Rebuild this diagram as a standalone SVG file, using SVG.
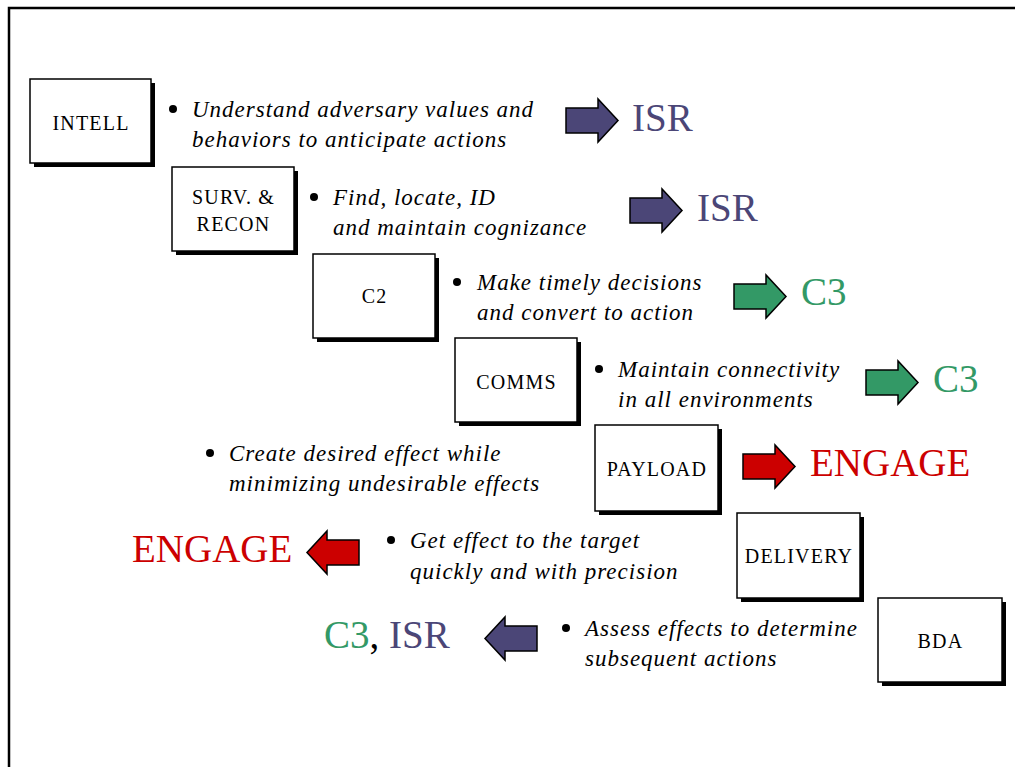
<svg xmlns="http://www.w3.org/2000/svg" width="1015" height="767" viewBox="0 0 1015 767">
<style>
.box{fill:#fff;stroke:#000;stroke-width:1.5}
.shd{fill:#000}
.lbl{font-family:"Liberation Serif",serif;font-size:20px;letter-spacing:1.2px;fill:#000;text-anchor:middle}
.txt{font-family:"Liberation Serif",serif;font-style:italic;font-size:23px;letter-spacing:1px;fill:#000}
.dot{fill:#000}
.big{font-family:"Liberation Serif",serif;font-size:39px}
.isr{fill:#4b4677}
.c3{fill:#339966}
.eng{fill:#cc0000}
.arr{stroke:#000;stroke-width:1.5;stroke-linejoin:miter}
</style>
<defs>
<path id="arrow" d="M0,9 H32 V0 L52,21.5 L32,43 V34 H0 Z"/>
</defs>
<rect x="0" y="0" width="1015" height="767" fill="#fff"/>
<path d="M9,767 V8 H1015" fill="none" stroke="#000" stroke-width="2.5"/>

<g id="intell">
<rect class="shd" x="34" y="83" width="121" height="84"/>
<rect class="box" x="30" y="79" width="121" height="84"/>
<text class="lbl" x="91" y="130">INTELL</text>
</g>
<g id="surv">
<rect class="shd" x="176" y="171" width="122" height="84"/>
<rect class="box" x="172" y="167" width="122" height="84"/>
<text class="lbl" x="233.5" y="204">SURV. &amp;</text>
<text class="lbl" x="233.5" y="231">RECON</text>
</g>
<g id="c2">
<rect class="shd" x="317" y="258" width="122" height="84"/>
<rect class="box" x="313" y="254" width="122" height="84"/>
<text class="lbl" x="374.5" y="303">C2</text>
</g>
<g id="comms">
<rect class="shd" x="459" y="342" width="122" height="84"/>
<rect class="box" x="455" y="338" width="122" height="84"/>
<text class="lbl" x="516.5" y="389">COMMS</text>
</g>
<g id="payload">
<rect class="shd" x="599" y="429" width="123" height="86"/>
<rect class="box" x="595" y="425" width="123" height="86"/>
<text class="lbl" x="657" y="476">PAYLOAD</text>
</g>
<g id="delivery">
<rect class="shd" x="741" y="517" width="123" height="85"/>
<rect class="box" x="737" y="513" width="123" height="85"/>
<text class="lbl" x="799" y="563">DELIVERY</text>
</g>
<g id="bda">
<rect class="shd" x="882" y="602" width="124" height="84"/>
<rect class="box" x="878" y="598" width="124" height="84"/>
<text class="lbl" x="940.5" y="648">BDA</text>
</g>

<g id="bullets">
<circle class="dot" cx="173" cy="109" r="4"/>
<text class="txt" x="192" y="117">Understand adversary values and</text>
<text class="txt" x="192" y="147">behaviors to anticipate actions</text>

<circle class="dot" cx="314" cy="197" r="4"/>
<text class="txt" x="333" y="205">Find, locate, ID</text>
<text class="txt" x="333" y="235">and maintain cognizance</text>

<circle class="dot" cx="457" cy="282" r="4"/>
<text class="txt" x="477" y="290">Make timely decisions</text>
<text class="txt" x="477" y="320">and convert to action</text>

<circle class="dot" cx="599" cy="369" r="4"/>
<text class="txt" x="618" y="377">Maintain connectivity</text>
<text class="txt" x="618" y="407">in all environments</text>

<circle class="dot" cx="210" cy="453" r="4"/>
<text class="txt" x="229" y="461">Create desired effect while</text>
<text class="txt" x="229" y="491">minimizing undesirable effects</text>

<circle class="dot" cx="391" cy="540" r="4"/>
<text class="txt" x="410" y="548">Get effect to the target</text>
<text class="txt" x="410" y="579">quickly and with precision</text>

<circle class="dot" cx="566" cy="628" r="4"/>
<text class="txt" x="585" y="636">Assess effects to determine</text>
<text class="txt" x="585" y="666">subsequent actions</text>
</g>

<g id="connectors">
<use href="#arrow" class="arr isr" transform="translate(566,99)"/>
<use href="#arrow" class="arr isr" transform="translate(630,189)"/>
<use href="#arrow" class="arr c3" transform="translate(734,275)"/>
<use href="#arrow" class="arr c3" transform="translate(866,361)"/>
<use href="#arrow" class="arr eng" transform="translate(743,445)"/>
<use href="#arrow" class="arr eng" transform="translate(359,531) scale(-1,1)"/>
<use href="#arrow" class="arr isr" transform="translate(537,617) scale(-1,1)"/>
</g>

<g id="outcomes">
<text class="big isr" x="632" y="131">ISR</text>
<text class="big isr" x="697" y="221">ISR</text>
<text class="big c3" x="801" y="305">C3</text>
<text class="big c3" x="933" y="392">C3</text>
<text class="big eng" x="810" y="476">ENGAGE</text>
<text class="big eng" x="132" y="562">ENGAGE</text>
<text class="big" x="324" y="648"><tspan class="c3">C3</tspan><tspan fill="#000">, </tspan><tspan class="isr">ISR</tspan></text>
</g>
</svg>
